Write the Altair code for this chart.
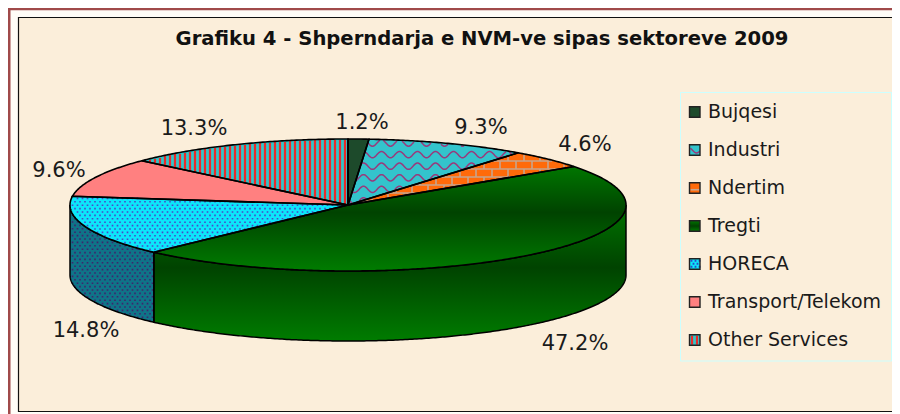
import math
import altair as alt
import pandas as pd

# ---- data
categories = ["Bujqesi", "Industri", "Ndertim", "Tregti", "HORECA", "Transport/Telekom", "Other Services"]
shares = [1.2, 9.3, 4.6, 47.2, 14.8, 9.6, 13.3]
share_labels = ["1.2%", "9.3%", "4.6%", "47.2%", "14.8%", "9.6%", "13.3%"]
title_text = "Grafiku 4 - Shperndarja e NVM-ve sipas sektoreve 2009"

# ---- layout / style (chart coordinates = page pixels minus the 8px page margin)
W, H = 884, 406
CX, CY, RX, RY, DEPTH = 340, 197, 278, 66, 70
label_xy = [(354, 114.5), (473, 119.5), (577, 136.5), (567, 335.5), (78, 322.5), (51, 162.5), (186, 120.5)]
base_fill = ["#1d4a2b", "#33c4cc", "#ff6a0a", None, "#0ce6fa", "#ff8080", "#33c4c8"]
LEG_X, LEG_Y0, LEG_DY, LEG_S = 681.5, 104, 38, 10.5
GREEN_TOP = alt.Gradient(gradient="linear", x1=0, x2=0, y1=0, y2=1, stops=[
    alt.GradientStop(offset=0, color="#007600"), alt.GradientStop(offset=0.44, color="#004300"),
    alt.GradientStop(offset=1, color="#007c00")])
GREEN_SIDE = alt.Gradient(gradient="linear", x1=0, x2=0, y1=0, y2=1, stops=[
    alt.GradientStop(offset=0, color="#007400"), alt.GradientStop(offset=0.46, color="#004300"),
    alt.GradientStop(offset=1, color="#007c00")])

# ---- geometry derived from the shares
edges = [0.0]
for s in shares:
    edges.append(edges[-1] + s * 3.6)


def pt(a, drop=0.0):
    r = math.radians(a)
    return [CX + RX * math.sin(r), CY - RY * math.cos(r) + drop]


def arc(a0, a1, drop=0.0):
    n = max(2, int(abs(a1 - a0)) * 2)
    return [pt(a0 + (a1 - a0) * i / n, drop) for i in range(n + 1)]


def feature(geom_type, coords):
    return {"type": "Feature", "properties": {}, "geometry": {"type": geom_type, "coordinates": coords}}


def wedge(a0, a1):
    ring = [[CX, CY]] + arc(a0, a1) + [[CX, CY]]
    return feature("Polygon", [ring])


def side(a0, a1):
    ring = arc(a0, a1) + arc(a1, a0, DEPTH)
    ring.append(ring[0])
    return feature("Polygon", [ring])


def rect(x0, y0, x1, y1):
    return feature("Polygon", [[[x0, y0], [x1, y0], [x1, y1], [x0, y1], [x0, y0]]])


def in_wedge(a0, a1):
    def test(x, y):
        u, v = (x - CX) / RX, (CY - y) / RY
        if u * u + v * v > 0.985:
            return False
        a = math.degrees(math.atan2(u, v)) % 360
        return a0 <= a <= a1
    return test


def in_side(a0, a1):
    x0, x1 = sorted((pt(a0)[0], pt(a1)[0]))

    def test(x, y):
        if not x0 <= x <= x1 or abs(x - CX) >= RX:
            return False
        yt = CY + RY * math.sqrt(1 - ((x - CX) / RX) ** 2)
        return yt <= y <= yt + DEPTH
    return test


def in_rect(x0, y0, x1, y1):
    return lambda x, y: x0 < x < x1 and y0 < y < y1


def clip_paths(paths, test):
    out = []
    for path in paths:
        cur = []
        for p in path:
            if test(p[0], p[1]):
                cur.append(p)
            else:
                if len(cur) > 1:
                    out.append(cur)
                cur = []
        if len(cur) > 1:
            out.append(cur)
    return feature("MultiLineString", out)


def wave_paths(y0, y1, x0, x1):
    rows = []
    y = y0
    while y < y1:
        xs = [x0 + i for i in range(int(x1 - x0) + 1)]
        rows.append([[x, y + 3.2 * math.sin(2 * math.pi * x / 18)] for x in xs])
        y += 11.6
    return rows


def stripe_paths(x0, x1, y0, y1, step):
    paths = []
    x = x0
    while x < x1:
        paths.append([[x, y0 + j] for j in range(int(y1 - y0) + 1)])
        x += step
    return paths


def brick_paths(x0, x1, y0, y1):
    paths = []
    row = 0
    y = y0
    while y < y1:
        paths.append([[x0 + i, y] for i in range(int(x1 - x0) + 1)])
        x = x0 + (8 if row % 2 else 0)
        while x < x1:
            paths.append([[x, y + j * 0.5] for j in range(17)])
            x += 16
        y += 8
        row += 1
    return paths


def dots(x0, x1, y0, y1, test, step=5.0, s=0.8, row_step=3.4):
    polys = []
    y = y0
    row = 0
    while y < y1:
        x = x0 + (step / 2 if row % 2 else 0)
        while x < x1:
            if test(x, y):
                polys.append([[[x - s, y - s], [x + s, y - s], [x + s, y + s], [x - s, y + s], [x - s, y - s]]])
            x += step
        y += row_step
        row += 1
    return feature("MultiPolygon", polys)


PROJ = dict(type="identity", scale=1, translate=[0, 0])


def shape(feats, **mark):
    return alt.Chart(alt.Data(values=feats)).mark_geoshape(**mark).project(**PROJ)


def line_shape(feat, color, width):
    return shape([feat], filled=False, stroke=color, strokeWidth=width, fill=None)


layers = []
# page frame
layers.append(shape([rect(1.2, 1, 900, 420)], fill="#fffdf8", stroke="#a04a4a", strokeWidth=2.6))
layers.append(shape([rect(10.5, 9.5, 900, 403.5)], fill="#fbeeda", stroke="#111111", strokeWidth=1.2))

a = edges
# side walls
wall_h = side(a[4], 270)
wall_t = side(90, a[4])
layers.append(shape([wall_h], fill="#0f7488"))
layers.append(shape([dots(CX - RX, CX, CY, CY + RY + DEPTH, in_side(a[4], 270))], fill="#40246e"))
layers.append(shape([wall_t], fill=GREEN_SIDE))
layers.append(shape([wall_h, wall_t], filled=False, fill=None, stroke="#000000", strokeWidth=1.5))

# top surface fills
for i in range(7):
    w = wedge(a[i], a[i + 1])
    fill = GREEN_TOP if i == 3 else base_fill[i]
    layers.append(shape([w], fill=fill))

# textures, computed from the same wedge geometry
ty0, ty1 = CY - RY - 2, CY + RY + 2
layers.append(line_shape(clip_paths(wave_paths(ty0 + 6, CY + 2, CX, CX + RX), in_wedge(a[1], a[2])), "#993a7c", 1.5))
layers.append(line_shape(clip_paths(brick_paths(CX, CX + RX, ty0, CY + 2), in_wedge(a[2], a[3])), "#c8a48c", 1.6))
layers.append(shape([dots(CX - RX, CX, CY - 10, ty1, in_wedge(a[4], a[5]))], fill="#4a48c8"))
layers.append(line_shape(clip_paths(stripe_paths(CX - RX, CX, ty0, CY + 2, 5.0), in_wedge(a[6], a[7])), "#ea2a2a", 2.2))

# wedge outlines
layers.append(shape([wedge(a[i], a[i + 1]) for i in range(7)], filled=False, fill=None,
                    stroke="#000000", strokeWidth=1.6))

# legend box
layers.append(shape([rect(LEG_X - 9, LEG_Y0 - 19.5, 883.5, 353)], filled=False, fill=None, stroke="#ccffff", strokeWidth=1))
swatch_grad = alt.Gradient(gradient="linear", x1=0, x2=0, y1=0, y2=1, stops=[
    alt.GradientStop(offset=0, color="#007600"), alt.GradientStop(offset=0.5, color="#004300"),
    alt.GradientStop(offset=1, color="#007c00")])
for i in range(7):
    y = LEG_Y0 + i * LEG_DY
    box = (LEG_X, y - LEG_S / 2, LEG_X + LEG_S, y + LEG_S / 2)
    layers.append(shape([rect(*box)], fill=swatch_grad if i == 3 else base_fill[i]))
    t = in_rect(*box)
    if i == 1:
        layers.append(line_shape(clip_paths(wave_paths(box[1] + 5, box[3], box[0], box[2]), t), "#993a7c", 1.4))
    elif i == 2:
        layers.append(line_shape(clip_paths(brick_paths(box[0], box[2], box[1] + 7, box[3]), t), "#c8a48c", 1.6))
    elif i == 4:
        layers.append(shape([dots(box[0] + 2, box[2], box[1] + 2, box[3], t, 4.0, 0.9, 3.0)], fill="#2a48c8"))
    elif i == 6:
        layers.append(line_shape(clip_paths(stripe_paths(box[0] + 2.5, box[2], box[1], box[3], 5.0), t), "#ea2a2a", 2.2))
    layers.append(shape([rect(*box)], filled=False, fill=None, stroke="#222222", strokeWidth=1.4))

# text
FONT = "DejaVu Sans"
legend_df = pd.DataFrame({"label": categories,
                          "lon": [LEG_X + 18.5] * 7,
                          "lat": [LEG_Y0 + i * LEG_DY for i in range(7)]})
layers.append(alt.Chart(legend_df).mark_text(font=FONT, fontSize=19, align="left", baseline="middle", color="#1a1a1a")
              .encode(longitude="lon:Q", latitude="lat:Q", text="label:N").project(**PROJ))
pct_df = pd.DataFrame({"label": share_labels,
                       "lon": [p[0] for p in label_xy],
                       "lat": [p[1] for p in label_xy]})
layers.append(alt.Chart(pct_df).mark_text(font=FONT, fontSize=21, align="center", baseline="middle", color="#1a1a1a")
              .encode(longitude="lon:Q", latitude="lat:Q", text="label:N").project(**PROJ))
title_df = pd.DataFrame({"label": [title_text], "lon": [474], "lat": [30.5]})
layers.append(alt.Chart(title_df).mark_text(font=FONT, fontSize=19.6, fontWeight="bold", align="center", baseline="middle", color="#111111")
              .encode(longitude="lon:Q", latitude="lat:Q", text="label:N").project(**PROJ))

chart = alt.layer(*layers).properties(width=W, height=H, padding=0, background="white").configure_view(stroke=None)
chart.save("out.html", embed_options={"renderer": "svg", "actions": False})
